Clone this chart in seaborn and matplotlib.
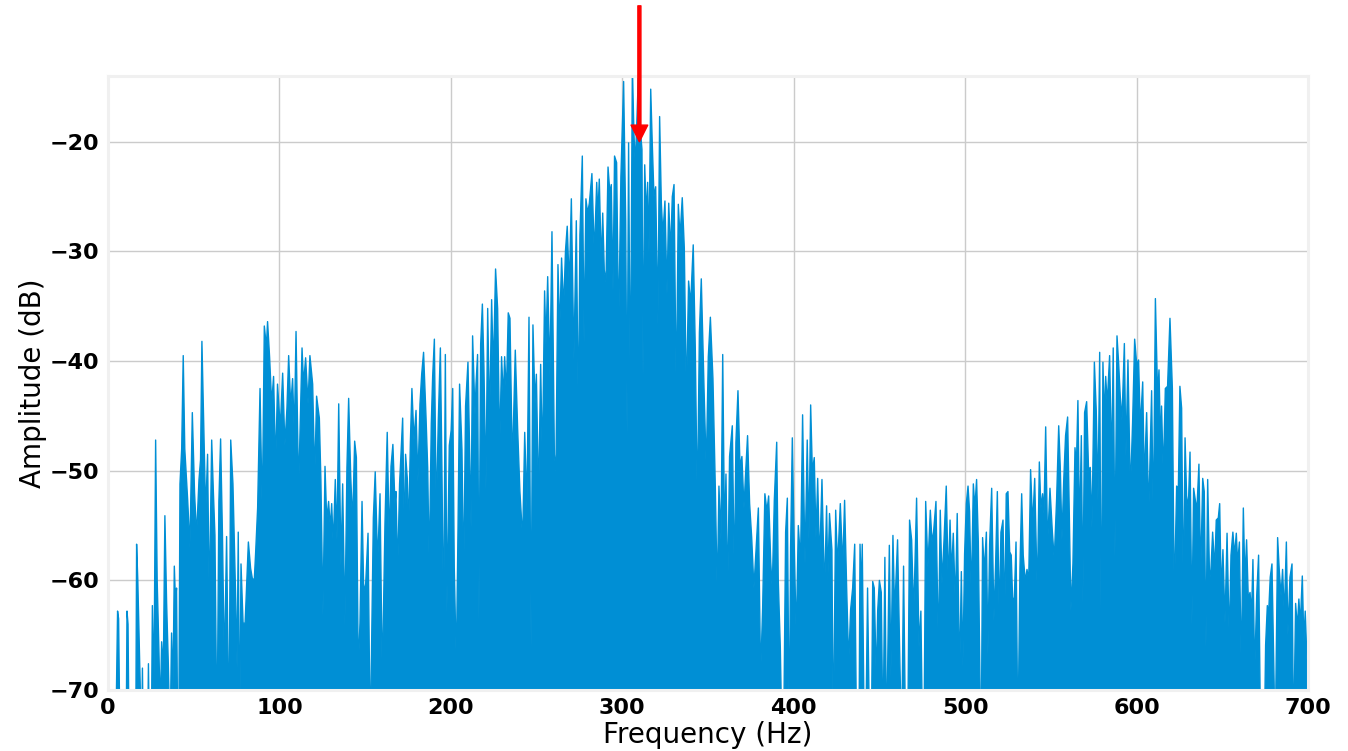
import numpy as np
import pandas as pd
import matplotlib
matplotlib.use("Agg")
import matplotlib.pyplot as plt
import seaborn as sns

# ---- data (frequency in Hz, amplitude in dB) ----
freq_0_100 = [0, 4.5, 5.6, 6.2, 7.0, 10.6, 11.1, 11.7, 12.3, 16.2, 16.7, 17.4, 19.6, 20.1, 20.6,
              23.1, 23.6, 24.2, 25.3, 25.9, 26.8, 27.8, 28.7, 29.7, 30.5, 31.3, 32.3, 33.2, 34.2,
              35.2, 36.2, 37.1, 37.9, 38.7, 39.4, 40.0, 40.7, 41.3, 42.0, 43.0, 43.9, 44.8, 45.5,
              46.5, 47.8, 49.2, 50.5, 51.7, 53.1, 54.0, 54.8, 56.0, 57.0, 58.1, 59.1, 60.5, 61.5,
              62.4, 63.6, 64.7, 65.7, 66.8, 67.9, 69.2, 70.6, 71.6, 72.9, 74.5, 75.3, 76.0, 76.8,
              77.6, 78.8, 80.0, 81.9, 83.2, 84.4, 85.4, 86.1, 87.3, 88.7, 90.0, 91.2, 92.4, 93.1,
              94.3, 95.5, 96.6, 97.8, 98.9]
amp_0_100 = [-75, -75, -62.8, -63.5, -75, -75, -62.8, -64, -75, -75, -56.7, -60, -75, -68, -75,
             -75, -67.6, -75, -75, -62.3, -70, -47.2, -60, -66.3, -72, -65.6, -68, -54.1, -62,
             -67.6, -75, -64.8, -70, -58.7, -62, -60.7, -75, -75, -51.2, -48, -39.5, -48, -50,
             -52.7, -57, -44.7, -52, -55.9, -50.8, -49, -38.2, -47, -53.9, -48.5, -62.3, -47.2, -52,
             -55.9, -75, -52.8, -47.1, -56, -68, -56, -75, -47.2, -51.2, -61.7, -68, -55.6, -75,
             -58.5, -63.9, -63.9, -56.5, -58.9, -60, -59.8, -57.6, -53.4, -42.5, -54.1, -36.8, -38.7, -36.4,
             -39.7, -43.9, -41.4, -49.6, -42.1]

freq_100_200 = [100.5, 101.9, 103.2, 104.4, 105.4, 106.6, 107.7, 108.7, 109.7, 111.2, 113.2, 114.1,
                115.3, 116.7, 117.8, 119.4, 120.6, 121.7, 123.3, 124.2, 125.4, 126.6, 127.6, 128.7,
                129.7, 130.5, 131.4, 132.6, 133.6, 134.6, 135.9, 136.9, 138.2, 139.4, 140.4, 141.6,
                142.7, 143.9, 144.9, 146.0, 147.0, 148.2, 149.1, 150.1, 151.7, 153.0, 154.8, 155.9,
                157.3, 158.7, 160.0, 161.6, 162.9, 164.1, 165.1, 166.2, 167.4, 168.0, 169.0, 170.1,
                171.9, 173.0, 173.6, 174.6, 175.4, 176.4, 177.3, 178.5, 179.7, 180.8, 182.0, 183.0,
                184.1, 185.5, 186.5, 187.4, 188.6, 189.4, 190.4, 191.5, 192.7, 193.9, 194.8, 195.8,
                196.8, 197.7, 199.1]
amp_100_200 = [-46.1, -41.1, -47.7, -44.3, -39.5, -44.1, -41.6, -46.7, -37.3, -51.9, -38.8, -42.1,
               -39.7, -43.9, -39.5, -42.1, -50.7, -43.2, -45.2, -50.8, -63.2, -49.6, -54.5, -52.8,
               -55.2, -53, -56.8, -50.8, -56.3, -43.9, -58.7, -51.2, -64.1, -49.7, -43.4, -50.5,
               -54.8, -47.3, -48.8, -68.3, -63.9, -52.8, -60.3, -61.1, -55.7, -75, -54.3, -50.1,
               -58.5, -52.1, -69.2, -54.7, -46.5, -56.7, -49.6, -47.6, -53, -51.9, -59.2, -51.2,
               -45.2, -57, -48.5, -50.7, -55.4, -47.4, -42.5, -47.2, -44.5, -51, -43.9, -41.2,
               -39.2, -45, -49.7, -59, -45.7, -41.4, -38, -54.1, -45.4, -38.8, -49.7, -64.8,
               -39.4, -63, -47.7]

freq_200_300 = [200.2, 201.1, 202.0, 203.2, 204.2, 205.1, 206.5, 207.5, 208.6, 210.0, 211.8, 212.7,
                214.1, 214.7, 215.6, 216.4, 217.4, 218.4, 219.3, 220.5, 221.5, 222.6, 223.8, 224.8,
                226.1, 227.3, 228.5, 229.6, 230.6, 231.4, 232.4, 233.5, 234.5, 235.9, 237.6, 239.0,
                240.3, 241.9, 243.1, 244.4, 245.6, 246.8, 247.9, 249.1, 249.9, 251.2, 252.4, 253.4,
                254.7, 255.5, 256.5, 257.8, 259.0, 260.4, 261.3, 262.5, 263.5, 264.6, 265.8, 266.9,
                267.9, 269.1, 270.3, 271.8, 273.2, 274.4, 275.3, 276.7, 277.7, 278.8, 279.8, 280.8,
                282.3, 283.7, 285.1, 285.8, 286.6, 287.8, 288.6, 289.5, 290.5, 291.7, 292.8, 293.6,
                294.6, 295.5, 296.7, 297.9, 299.2]
amp_200_300 = [-46.3, -42.5, -58.8, -67.7, -55.2, -42.1, -48.1, -60.1, -44.1, -40.1, -55.2, -37.7,
               -44.9, -42.1, -39.4, -63.7, -38.5, -34.8, -40.5, -51.7, -35.2, -45.7, -34.4, -41,
               -31.6, -35.2, -48.1, -39.6, -43.4, -39.6, -43, -35.6, -36.1, -49.7, -39, -46.3,
               -51.9, -56.3, -46.5, -53.4, -36, -66.1, -36.7, -43.9, -41.2, -52.8, -40.3, -49.4,
               -33.6, -38.5, -32.3, -41.4, -28.2, -48.5, -50.1, -31.2, -37.4, -30.6, -35.2, -29.9,
               -27.7, -33.2, -25.2, -39.9, -27.2, -45.7, -28.5, -21.3, -38.3, -25.2, -26.5, -25.6,
               -22.9, -30.3, -23.7, -26.8, -23.4, -31.4, -26.5, -31.7, -32.8, -22.3, -24.7, -23.9,
               -33.6, -21.3, -21.9, -37.4, -23.2]

freq_300_400 = [300.8, 302.0, 302.8, 303.7, 304.7, 305.9, 306.8, 307.6, 308.6, 309.6, 310.5, 311.5,
                312.1, 313.1, 314.0, 314.8, 315.6, 316.6, 317.5, 318.5, 319.5, 320.8, 321.8, 322.8,
                323.7, 324.9, 326.1, 327.1, 328.2, 329.2, 330.2, 331.5, 332.7, 333.7, 335.0, 336.2,
                337.4, 338.7, 339.9, 341.4, 342.6, 343.8, 345.0, 346.1, 347.7, 349.0, 350.2, 351.4,
                352.9, 354.3, 355.4, 356.4, 357.6, 358.6, 359.7, 360.5, 361.5, 362.6, 364.2, 365.4,
                366.3, 367.5, 368.7, 369.8, 371.0, 372.0, 373.1, 374.3, 375.5, 376.8, 378.0, 379.4,
                380.7, 381.9, 383.2, 384.4, 385.4, 386.6, 387.5, 388.7, 390.1, 391.0, 392.2, 393.2,
                394.1, 395.3, 396.3, 397.4, 398.2, 399.2]
amp_300_400 = [-14.5, -27.2, -46.7, -20.1, -44.3, -13, -19.2, -22.1, -17.7, -13, -18.8, -20.7,
               -41.4, -22.1, -26.8, -23.7, -30.1, -15.2, -20.1, -25, -24.1, -36.7, -17.7, -25.6,
               -28.5, -25.4, -33.9, -25.6, -30.1, -25, -23.9, -43.4, -25.7, -28.7, -25.1, -29.7,
               -43.6, -32.7, -34.8, -29.4, -38.8, -53.4, -37.4, -32.5, -42.5, -49.9, -39.6, -36,
               -41.6, -51.6, -61.4, -51.4, -56.3, -39.4, -56.3, -50.3, -61.4, -48.7, -45.9, -60.3,
               -47.4, -42.7, -49.7, -48.7, -53.4, -50.1, -46.8, -53, -56.1, -60.7, -57.4, -53.4,
               -68.7, -62.5, -52.1, -53.7, -52.3, -58.3, -60.8, -52.7, -47.4, -59.9, -66.1, -75,
               -75, -55.6, -52.5, -75, -57, -47]

freq_400_500 = [400.2, 401.5, 402.7, 404.0, 405.2, 406.6, 407.9, 408.9, 409.9, 410.9, 412.0, 413.0,
                414.0, 415.1, 416.5, 418.0, 419.2, 419.9, 420.9, 422.3, 423.1, 424.5, 425.6, 427.2,
                428.6, 429.7, 430.9, 432.1, 433.2, 434.4, 435.6, 436.7, 438.1, 438.7, 439.4, 440.0,
                441.2, 442.0, 443.1, 444.3, 445.3, 446.1, 447.0, 448.2, 449.0, 450.0, 451.1, 452.1,
                453.2, 454.2, 455.8, 456.7, 457.9, 458.9, 460.6, 462.0, 463.0, 464.1, 465.3, 466.5,
                467.6, 468.8, 470.0, 471.7, 473.1, 474.2, 475.2, 476.0, 477.0, 478.3, 479.7, 480.7,
                481.6, 483.0, 484.4, 485.5, 486.5, 487.7, 489.0, 490.2, 491.2, 492.1, 493.1, 494.3,
                495.4, 496.8, 497.8, 498.7, 499.7]
amp_400_500 = [-55.9, -65.2, -55, -58.3, -44.9, -58.5, -47.2, -56.3, -44, -50.1, -48.8, -56.1,
               -50.7, -58.5, -50.8, -61.2, -53.2, -60.1, -53.9, -57.2, -75, -53.6, -58.8, -53,
               -58.8, -52.7, -60.7, -67.6, -62.7, -60.7, -56.7, -75, -75, -56.7, -61.2, -56.7,
               -75, -75, -60.7, -75, -75, -60.1, -60.7, -69.2, -62.8, -60, -61.1, -75,
               -57.9, -75, -56.8, -68.9, -55.9, -63, -56.3, -67.9, -75, -58.7, -75, -75,
               -54.5, -56.3, -63.2, -52.5, -66.1, -62.8, -75, -75, -52.8, -58.8, -53.6, -56.5,
               -55.6, -52.8, -66.5, -53.6, -60.3, -56.3, -51.4, -60.5, -54.5, -59.4, -55.7, -62.3,
               -53.9, -68.9, -59.2, -67.9, -57.6]

freq_500_600 = [500.7, 501.7, 502.6, 503.6, 504.8, 505.7, 506.7, 507.7, 508.7, 509.4, 510.2, 511.2,
                512.4, 513.3, 514.3, 515.5, 516.8, 517.8, 518.8, 519.9, 520.9, 522.1, 523.1, 524.0,
                525.0, 526.0, 526.9, 527.7, 528.7, 529.7, 530.8, 532.0, 533.0, 533.9, 535.1, 536.1,
                537.1, 538.2, 539.4, 540.6, 542.1, 543.3, 544.2, 545.2, 546.0, 547.0, 548.1, 549.5,
                550.9, 552.0, 553.4, 554.6, 555.5, 556.5, 557.5, 558.6, 559.8, 560.8, 561.7, 562.9,
                564.1, 564.9, 565.8, 566.8, 567.8, 568.7, 569.7, 570.9, 572.0, 573.0, 574.0, 575.4,
                576.5, 577.5, 578.5, 579.4, 580.4, 581.2, 582.0, 582.9, 584.3, 585.5, 586.4, 587.4,
                588.6, 589.6, 590.5, 591.5, 592.9, 593.8, 595.0, 596.4, 597.7, 598.9]
amp_500_600 = [-53, -51.4, -53.7, -61.7, -51.2, -53.4, -50.8, -56.5, -69.7, -75, -56.1, -59.2,
               -55.6, -66.8, -56.7, -51.6, -63.7, -58.5, -51.9, -63.7, -55.6, -54.5, -63.7, -52.1,
               -51.9, -57.4, -57.7, -61.6, -61.7, -56.5, -75, -58.8, -52.1, -57.7, -60.1, -59,
               -60, -49.9, -55, -50.7, -61.4, -49.2, -53.4, -52.1, -53.9, -46, -56.8, -51.6,
               -55.6, -58.1, -52.5, -45.9, -49.6, -56.3, -51, -46.8, -45.1, -54.1, -62.8, -58.5,
               -47.9, -49.7, -43.6, -55.9, -46.8, -62.1, -44.7, -43.7, -49.9, -49.7, -55.2, -40.1,
               -44.5, -52.7, -39.2, -66.8, -40.1, -45.4, -41.4, -43.9, -39.5, -49.7, -38.8, -57.9,
               -37.7, -40.3, -43.2, -45.4, -38.4, -48.7, -39.9, -52.1, -45.6, -38]

freq_600_700 = [600.1, 601.2, 602.2, 603.6, 604.5, 605.9, 607.1, 608.8, 609.8, 611.0, 612.3, 613.1,
                614.1, 614.6, 615.6, 616.8, 618.1, 619.5, 620.9, 622.0, 623.4, 624.4, 625.3, 626.3,
                627.3, 628.3, 629.2, 630.2, 631.2, 632.3, 633.3, 634.3, 635.2, 636.4, 637.4, 638.6,
                639.5, 640.5, 641.5, 642.6, 643.4, 644.4, 645.6, 646.5, 647.7, 648.5, 649.4, 650.4,
                651.6, 652.8, 654.1, 655.1, 656.2, 657.2, 658.2, 659.0, 660.0, 661.1, 662.3, 663.2,
                664.2, 665.2, 666.2, 667.1, 667.9, 668.9, 670.1, 671.2, 672.4, 673.5, 674.5, 675.3,
                676.3, 677.0, 678.0, 679.0, 680.0, 680.9, 682.3, 683.3, 684.3, 685.2, 686.2, 687.4,
                688.3, 689.5, 690.7, 691.6, 692.8, 693.8, 694.7, 695.5, 696.7, 697.6, 698.4, 699.4,
                700.0]
amp_600_700 = [-40.3, -39.9, -46.1, -41.9, -51, -44.7, -54.1, -42.7, -55.2, -34.3, -43.2, -40.8,
               -48.3, -44.1, -50.5, -42.5, -42.3, -36.1, -42.5, -61.9, -51.4, -51.6, -42.3, -44.3,
               -62.1, -47, -52.3, -53.4, -48.3, -64.1, -51.6, -52.7, -53.6, -49.4, -59.6, -50.7,
               -51.9, -66.1, -50.8, -60, -59, -55.6, -59, -54.5, -54.3, -53, -61.2, -57.2,
               -63.9, -55.7, -65.6, -57.7, -55.6, -57.7, -55.7, -58.5, -56.5, -68.5, -53.4, -60,
               -56.3, -61.7, -61.1, -63, -58.1, -68.5, -61.4, -57.7, -75, -75, -75, -65.9,
               -62.3, -63.2, -59.7, -58.5, -67.2, -75, -56.1, -59.2, -61.4, -59, -63.2, -56.5,
               -65, -59.7, -58.5, -75, -62.1, -64.3, -61.7, -64.1, -59.6, -65.6, -62.8, -67.2,
               -66]

x_ticks = [0, 100, 200, 300, 400, 500, 600, 700]
y_ticks = [-70, -60, -50, -40, -30, -20]
marker_freq = 310
marker_db = -20

freq = np.array(freq_0_100 + freq_100_200 + freq_200_300 + freq_300_400 +
                freq_400_500 + freq_500_600 + freq_600_700)
amp = np.array(amp_0_100 + amp_100_200 + amp_200_300 + amp_300_400 +
               amp_400_500 + amp_500_600 + amp_600_700)
df = pd.DataFrame({"Frequency (Hz)": freq, "Amplitude (dB)": amp})

# ---- style ----
sns.set_style("whitegrid", {
    "axes.edgecolor": "#f0f0f0",
    "grid.color": "#cbcbcb",
    "axes.facecolor": "white",
    "text.color": "black",
    "axes.labelcolor": "black",
    "xtick.color": "black",
    "ytick.color": "black",
})
plt.rcParams["font.family"] = ["DejaVu Sans"]

BLUE = "#008fd5"
fig = plt.figure(figsize=(13.48, 7.51), dpi=100)
ax = fig.add_axes([0.0801, 0.0812, 0.8902, 0.8176])

ax.fill_between(df["Frequency (Hz)"], -90, df["Amplitude (dB)"], color=BLUE, linewidth=0)
sns.lineplot(data=df, x="Frequency (Hz)", y="Amplitude (dB)", ax=ax, color=BLUE,
             linewidth=1.0, estimator=None, errorbar=None)

ax.set_xlim(0, 700)
ax.set_ylim(-70, -14)
ax.set_xticks(x_ticks)
ax.set_yticks(y_ticks)
ax.tick_params(axis="both", length=0, labelsize=16, pad=6, colors="black")
for lab in ax.get_xticklabels() + ax.get_yticklabels():
    lab.set_fontweight("bold")
ax.set_xlabel("Frequency (Hz)", fontsize=20, labelpad=2, color="black")
ax.set_ylabel("Amplitude (dB)", fontsize=20, labelpad=2, color="black")
for s in ax.spines.values():
    s.set_color("#f0f0f0")
    s.set_linewidth(2.2)
ax.grid(True, color="#cbcbcb", linewidth=1)

ax.annotate("", xy=(marker_freq, marker_db), xytext=(marker_freq, -7.6),
            arrowprops=dict(facecolor="red", edgecolor="red", width=2.2,
                            headwidth=12, headlength=12, shrink=0.0),
            annotation_clip=False)

fig.savefig("out.png", dpi=100)
